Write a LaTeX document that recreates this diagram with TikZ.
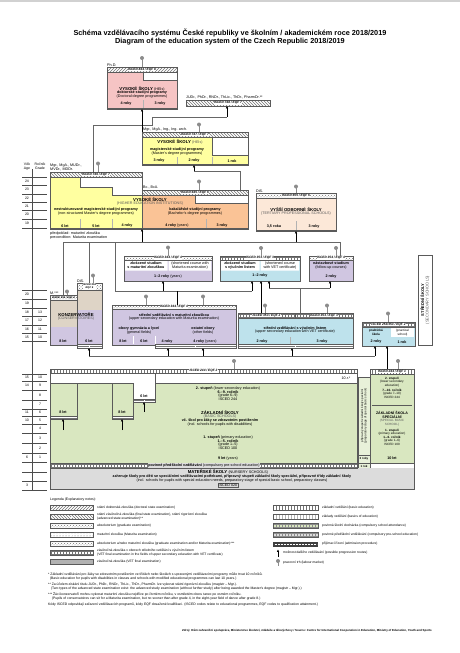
\documentclass[tikz,border=0pt]{standalone}
\usepackage{fontspec}
\setmainfont{Liberation Sans}
\usetikzlibrary{patterns,arrows.meta}
\definecolor{heY}{RGB}{255,255,160}
\definecolor{heO}{RGB}{250,195,150}
\definecolor{phd}{RGB}{246,196,196}
\definecolor{vos}{RGB}{252,232,216}
\definecolor{lav}{RGB}{208,198,225}
\definecolor{lblue}{RGB}{190,226,236}
\definecolor{grn}{RGB}{217,231,192}
\definecolor{gry}{RGB}{220,220,220}
\definecolor{tanc}{RGB}{222,212,198}
\definecolor{edge}{RGB}{90,90,90}
\tikzset{
  tt/.style={font=\fontsize{3.7}{4.1}\selectfont, inner sep=0pt, align=center},
  tb/.style={font=\fontsize{3.7}{4.1}\selectfont\bfseries, inner sep=0pt, align=center},
  te/.style={font=\fontsize{3.7}{4.1}\selectfont, inner sep=0pt, align=center, text=black!65},
  tn/.style={font=\fontsize{4.3}{4.7}\selectfont\bfseries, inner sep=0pt, align=center},
  ts/.style={font=\fontsize{3.1}{3.5}\selectfont, inner sep=0pt, align=center},
  tsb/.style={font=\fontsize{3.1}{3.5}\selectfont\bfseries, inner sep=0pt, align=center},
  tl/.style={font=\fontsize{3.3}{3.8}\selectfont, inner sep=0pt, align=left, anchor=west},
  bandlbl/.style={font=\fontsize{3.2}{3.4}\selectfont\bfseries\itshape, inner sep=0.4pt, fill=white},
  bandedge/.style={draw=edge, line width=0.35pt},
  boxedge/.style={draw=edge, line width=0.4pt},
  conn/.style={draw=black!60, line width=0.6pt},
  arr/.style={draw=black, line width=0.5pt, -{Triangle[length=2.4pt,width=2.2pt]}},
  pinhead/.style={circle, fill=black!45, inner sep=0pt, minimum size=4pt},
  pinline/.style={draw=black!45, line width=0.7pt},
  agel/.style={font=\fontsize{3.5}{3.9}\selectfont, inner sep=0pt},
}
\newcommand{\xband}[7]{%
  \path[fill=white] (#2,#3) rectangle (#4,#5);
  \path[pattern=#6, pattern color=black!55] (#2,#3) rectangle (#4,#5);
  \draw[bandedge] (#2,#3) rectangle (#4,#5);
  \node[bandlbl] (#1) at ({(#2+#4)/2},{(#3+#5)/2}) {#7};}
\newcommand{\xpin}[4]{%
  \coordinate (#1b) at (#2,#4);
  \draw[pinline] (#2,#3) -- (#1b);
  \node[pinhead] (#1) at (#2,#3) {};}
\begin{document}
\begin{tikzpicture}[x=1pt,y=-1pt]
\useasboundingbox (0,0) rectangle (460,653);
\fill[white] (0,0) rectangle (460,653);
\fill[black!18] (0,0) rectangle (460,1.6);

% ---------- title
\node[font=\fontsize{7.3}{8.5}\selectfont\bfseries, inner sep=0] (title1) at (230,33) {Schéma vzdělávacího systému České republiky ve školním / akademickém roce 2018/2019};
\node[font=\fontsize{7.3}{8.5}\selectfont\bfseries, inner sep=0] (title2) at (230,42) {Diagram of the education system of the Czech Republic 2018/2019};

% ---------- age column
\draw[black!70, line width=0.4pt] (32,169) -- (32,491);
\node[agel] (hAge1) at (27,164.5) {Věk};
\node[agel] (hAge2) at (27,168.3) {Age};
\node[agel] (hGr1) at (40,164.5) {Ročník};
\node[agel] (hGr2) at (40,168.3) {Grade};
\foreach \yy in {177,185,194,202,210,219,228, 290,299,308,316,325,333,341, 374,381,390,400,409,416,424,433,443,453,462,472,481,490}
  \draw[black!70, line width=0.35pt] (22,\yy) -- (47,\yy);
\foreach \a/\g/\yy [count=\i] in {24//181,23//189.5,22//198,21//206,20//214,19//223.5, 20//294.5,19//303.5,18/13/312,17/12/320.5,16/11/329,15/10/337, 15/10/377.5,14/9/385.5,/8/395,/7/404.5,11/6/412.5,10/5/420,/4/428.5,/3/438,/2/448,6/1/457.5,//467,//476.5,3//485.5}{
  \node[agel] (ag\i) at (27,\yy) {\a};
  \node[agel] (gr\i) at (40,\yy) {\g};}

% ---------- doctoral
\draw[boxedge, fill=phd] (107,72) -- (143,72) -- (143,80) -- (177,80) -- (177,109) -- (107,109) -- cycle;
\draw[boxedge] (143,72) -- (177,72) -- (177,80);
\xband{bD}{107}{67}{177}{72}{north east lines}{ISCED 844 / EQF 8}
\xpin{pD}{142}{58}{67}
\node[tt, anchor=south west] (phdl) at (107,66.5) {Ph.D.};
\node[tn] (dT1) at (142,88.5) {VYSOKÉ ŠKOLY \mdseries\fontsize{3.7}{4}\selectfont(HEIs)};
\node[tb] (dT2) at (142,92.8) {doktorské studijní programy};
\node[tt] (dT3) at (142,96.6) {(Doctoral degree programmes)};
\node[tb] (dT4) at (126,104) {4 roky};
\node[tb] (dT5) at (160,104) {3 roky};
\draw[black!30, line width=0.3pt] (143,100) -- (143,107.5);
\draw[edge, line width=0.9pt] (107,108.5) -- (177,108.5);

% ---------- rigorous exam band
\node[tt, anchor=south west] (jud) at (186,99.6) {JUDr., PhDr., RNDr., ThLic., ThDr., PharmDr.**};
\xband{bJU}{186}{100}{270}{106}{north west lines}{ISCED 748 / EQF 7}

% ---------- follow-up master
\draw[boxedge, fill=heY] (142,137) -- (212,137) -- (212,155) -- (248,155) -- (248,165) -- (142,165) -- cycle;
\draw[boxedge] (212,137) -- (248,137) -- (248,155);
\xband{bMg}{142}{132}{248}{137}{north west lines}{ISCED 747 / EQF 7}
\xpin{pMg}{199}{124.5}{132}
\node[tt, anchor=south west] (mgl) at (143,131.6) {Mgr., MgA., Ing., Ing. arch.};
\node[tn] (mT1) at (180,142) {VYSOKÉ ŠKOLY \mdseries\fontsize{3.7}{4}\selectfont\color{black!65}(HEIs)};
\node[tb] (mT2) at (177,149.3) {magisterské studijní programy};
\node[tt] (mT3) at (177,153.1) {(Master's degree programmes)};
\node[tb] (mT4) at (159,160.8) {3 roky};
\node[tb] (mT5) at (194,160.8) {2 roky};
\node[tb] (mT6) at (232,160.8) {1 rok};
\draw[black!30, line width=0.3pt] (177,157) -- (177,164) (212,157) -- (212,164);
\draw[edge, line width=0.9pt] (142,164.5) -- (248,164.5);

% ---------- HE (long master + bachelor)
\draw[boxedge, fill=heY] (50,177) -- (80,177) -- (80,187) -- (112,187) -- (112,195) -- (142,195) -- (142,229) -- (50,229) -- cycle;
\draw[boxedge, fill=heO] (142,195) -- (195,195) -- (195,203) -- (248,203) -- (248,229) -- (142,229) -- cycle;
\draw[boxedge] (80,177) -- (142,177) -- (142,195) (195,195) -- (248,195) -- (248,203);
\xband{bLM}{50}{172}{142}{177}{north west lines}{ISCED 746 / EQF 7}
\xband{bBc}{142}{190}{248}{195}{north west lines}{ISCED 645 / EQF 6}
\xpin{pLM}{98}{163.5}{172}
\xpin{pBc}{199}{181.5}{190}
\node[tt, anchor=south west, align=left] (lml) at (50,171.6) {Mgr., MgA., MUDr.,\\MVDr., MDDr.};
\node[tt, anchor=south west] (bcl) at (143,189.6) {Bc., BcA.};
\node[tn] (hT1) at (150,199.5) {VYSOKÉ ŠKOLY};
\node[te] (hT2) at (150,203.5) {(HIGHER EDUCATION INSTITUTIONS)};
\node[tb] (hT3) at (96,209.8) {nestrukturované magisterské studijní programy};
\node[tt] (hT4) at (96,213.6) {(non-structured Master's degree programmes)};
\node[tb] (hT5) at (195,209.8) {bakalářské studijní programy};
\node[tt] (hT6) at (195,213.6) {(Bachelor's degree programmes)};
\node[tb] (hT7) at (65,225.8) {6 let};
\node[tb] (hT8) at (96,225.8) {5 let};
\node[tb] (hT9) at (127,225.8) {4 roky};
\node[tb] (hT10) at (177,225.8) {4 roky \mdseries(years)};
\node[tb] (hT11) at (222,225.8) {3 roky};
\draw[black!30, line width=0.3pt] (80,219) -- (80,228) (112,219) -- (112,228) (206,219) -- (206,228);
\draw[edge, line width=0.9pt] (50,228.5) -- (248,228.5);
\node[tt, anchor=west, align=left] (prec) at (50,235.3) {předpoklad: maturitní zkouška\\precondition: Maturita examination};

% ---------- VOS
\draw[boxedge, fill=vos] (256,198) rectangle (336,231);
\xband{bVO}{256}{193}{336}{198}{crosshatch dots}{ISCED 655 / EQF 6}
\xpin{pVO}{296}{186.5}{193}
\node[tt, anchor=south west] (disl) at (256,192.6) {DiS.};
\node[tn] (vT1) at (296,209.5) {VYŠŠÍ ODBORNÉ ŠKOLY};
\node[te] (vT2) at (296,213.5) {(TERTIARY PROFESSIONAL SCHOOLS)};
\node[tb] (vT3) at (274,226.8) {3,5 roku};
\node[tb] (vT4) at (314,226.8) {3 roky};
\draw[black!30, line width=0.3pt] (296,221) -- (296,230);
\draw[edge, line width=0.9pt] (256,230.5) -- (336,230.5);

% ---------- connectors upper
\coordinate (c1) at (93,125);
\coordinate (c2) at (152,125);
\coordinate (c3) at (152,117);
\coordinate (c4) at (227,117);
\coordinate (dBot) at (142,109);
\coordinate (mTopL) at (142,132);
\coordinate (lmTop) at (93,172);
\coordinate (judBot) at (227,106);
\draw[conn] (lmTop) -- (c1) -- (c2) -- (c3) -- (c4);
\draw[arr] (c4) -- (judBot);
\draw[arr] (mTopL) -- (dBot);
\coordinate (bcR) at (240,190);
\coordinate (c5) at (240,171);
\coordinate (c6) at (194,171);
\coordinate (mBot) at (194,165);
\draw[conn] (bcR) -- (c5) -- (c6);
\draw[arr] (c6) -- (mBot);

% ---------- post-secondary short courses
\draw[boxedge, fill=lav] (124,260) rectangle (212,281);
\fill[white] (125,261) rectangle (167.5,270.5) (168.5,261) rectangle (211,270.5);
\xband{bA}{124}{256}{212}{260}{crosshatch dots}{ISCED 344 / EQF 4}
\xpin{pA}{168}{247.5}{256}
\node[tb] (aT1) at (146,265.5) {zkrácené studium\\s maturitní zkouškou};
\node[tt] (aT2) at (190,265.5) {(shortened course with\\Maturita examination)};
\node[tb] (aT3) at (168,276.5) {1–2 roky \mdseries(years)};

\draw[boxedge, fill=lblue] (220,260) rectangle (300,281);
\fill[white] (221,261) rectangle (259.5,270.5) (260.5,261) rectangle (299,270.5);
\xband{bB}{220}{256}{300}{260}{grid}{ISCED 353 / EQF 3}
\xpin{pB}{261}{248}{256}
\node[tb] (bT1) at (240,265.5) {zkrácené studium\\s výučním listem};
\node[tt] (bT2) at (280,265.5) {(shortened course\\with VET certificate)};
\node[tb] (bT3) at (260,276) {1–2 roky};

\draw[boxedge, fill=lav] (309,260) rectangle (353,281);
\xband{bC}{309}{256}{353}{260}{crosshatch dots}{ISCED 354 / EQF 4}
\xpin{pC}{336}{248}{256}
\node[tb] (cT1) at (331,265.5) {nástavbové studium\\\mdseries(follow-up courses)};
\node[tb] (cT3) at (331,276.5) {2 roky};

% ---------- connectors middle
\coordinate (m1) at (63,242);
\coordinate (m2) at (340,242);
\coordinate (heBot) at (142,229);
\coordinate (heSrc) at (142,242);
\coordinate (voBot) at (296,231);
\coordinate (voSrc) at (296,242);
\coordinate (cTop) at (340,256);
\coordinate (konzTop) at (63,295);
\coordinate (mat1) at (115,242);
\coordinate (mat2) at (115,291);
\coordinate (kz1) at (89,243);
\coordinate (kz2) at (89,283);
\draw[conn] (konzTop) -- (m1) -- (m2) -- (cTop);
\draw[conn] (mat1) -- (mat2);
\draw[conn] (kz1) -- (kz2);
\draw[arr] (heSrc) -- (heBot);
\draw[arr] (voSrc) -- (voBot);
\coordinate (n1) at (252,291);
\coordinate (aSrc) at (163,291);
\coordinate (aBot) at (163,281);
\coordinate (bBot1) at (252,281);
\draw[conn] (mat2) -- (n1);
\draw[arr] (aSrc) -- (aBot);
\draw[arr] (n1) -- (bBot1);
\coordinate (matTop) at (177,305);
\coordinate (matJ) at (177,291);
\draw[black, line width=0.9pt] (matTop) -- (matJ);
\coordinate (vetTop1) at (261,313);
\coordinate (bBot2) at (261,281);
\draw[arr] (vetTop1) -- (bBot2);
\coordinate (r1) at (269,288);
\coordinate (r2) at (330,288);
\coordinate (bBot3) at (269,281);
\coordinate (cBot) at (330,281);
\coordinate (vetTop2) at (300,313);
\coordinate (r3) at (300,288);
\draw[conn] (vetTop2) -- (r3) (r1) -- (r2);
\draw[arr] (r1) -- (bBot3);
\draw[arr] (r2) -- (cBot);

% ---------- conservatoire
\fill[tanc] (77,290) rectangle (102,310);
\fill[tanc] (50,300) rectangle (77,327);
\fill[lav] (50,327) rectangle (77,345) (77,310) rectangle (102,345);
\draw[boxedge] (50,300) -- (50,345) -- (102,345) -- (102,290) (77,290) -- (77,345);
\xband{bK1}{50}{295}{77}{300}{crosshatch dots}{}
\node[bandlbl, fill=none, font=\fontsize{2.6}{2.9}\selectfont\bfseries\itshape, align=center] (bK1l) at (63.5,297.5) {ISCED 354 / EQF 4};
\xband{bK2}{77}{283}{102}{290}{crosshatch dots}{}
\node[bandlbl, fill=white, font=\fontsize{2.6}{2.9}\selectfont\bfseries\itshape, align=center] (bK2l) at (89.5,286.5) {ISCED 554\\EQF 6};
\xpin{pK1}{67}{291.5}{295}
\xpin{pK2}{93}{275.5}{283}
\node[tt, anchor=south west] (kzl1) at (50,294.6) {M.***};
\node[tt, anchor=south west] (kzl2) at (77,282.6) {DiS.};
\node[tn] (kT1) at (76,315) {KONZERVATOŘE};
\node[te] (kT2) at (76,319) {(CONSERVATOIRES)};
\node[tb] (kT3) at (63,341.5) {8 let};
\node[tb] (kT4) at (89,341.5) {6 let};
\xband{adm1}{77}{344}{102}{348}{horizontal lines}{}

% ---------- upper secondary with Maturita
\draw[boxedge, fill=lav] (112,309) rectangle (236,345);
\xband{bM}{112}{305}{236}{309}{crosshatch dots}{ISCED 344 / EQF 4}
\xpin{pM1}{146}{296.5}{305}
\xpin{pM2}{203}{296.5}{305}
\node[tb] (uT1) at (174,314.8) {střední vzdělávání s maturitní zkouškou};
\node[tt] (uT2) at (174,318.7) {(upper secondary education with Maturita examination)};
\node[tb] (uT3) at (139,328.8) {obory gymnázia a lyceí};
\node[tt] (uT4) at (139,332.7) {(general fields)};
\node[tb] (uT5) at (203,328.8) {ostatní obory};
\node[tt] (uT6) at (203,332.7) {(other fields)};
\node[tb] (uT7) at (123,341.5) {8 let};
\node[tb] (uT8) at (144,341.5) {6 let};
\node[tb] (uT9) at (167,341.5) {4 roky};
\node[tb] (uT10) at (205,341.5) {4 roky \mdseries(years)};
\draw[white, line width=0.5pt] (133,336) -- (133,344) (155,336) -- (155,344);
\xband{adm2}{155}{344}{236}{348}{horizontal lines}{}

% ---------- upper secondary with VET certificate
\draw[boxedge, fill=lblue] (238,318) rectangle (353,345);
\xband{bV1}{238}{313}{295}{318}{grid}{ISCED 353 / EQF 2}
\xband{bV2}{295}{313}{353}{318}{grid}{ISCED 353 / EQF 3}
\xpin{pV1}{265}{305.5}{313}
\xpin{pV2}{327}{305.5}{313}
\node[tb] (wT1) at (295,328) {střední vzdělávání s výučním listem};
\node[tt] (wT2) at (295,331.9) {(upper secondary education with VET certificate)};
\node[tb] (wT3) at (262,341.5) {2 roky};
\node[tb] (wT4) at (322,341.5) {3 roky};
\draw[black!30, line width=0.3pt] (290,337) -- (290,344.5);
\xband{adm3}{238}{344}{353}{348}{horizontal lines}{}

% ---------- practical school
\draw[boxedge, fill=lblue] (362,327) rectangle (415,346);
\fill[white] (391,328) rectangle (414,337);
\xband{bP}{362}{322}{415}{327}{grid}{ISCED 253/353 / EQF 2}
\xpin{pP}{388}{313.5}{322}
\node[tsb] (pT1) at (376,332.5) {praktická\\škola};
\node[ts] (pT2) at (402.5,332.5) {(practical\\school)};
\node[tb] (pT3) at (376,342) {2 roky};
\node[tb] (pT4) at (402,342) {1 rok};

% ---------- secondary schools vertical label
\draw[boxedge, fill=white] (418,255) rectangle (432,345);
\node[tb, rotate=90, font=\fontsize{4}{4.6}\selectfont\bfseries] (ssk) at (425,300) {STŘEDNÍ ŠKOLY\\\mdseries\color{black!65}(SECONDARY SCHOOLS)};

% ---------- line y=356 with arrows
\coordinate (L0) at (89,356);
\coordinate (L1) at (375,356);
\coordinate (kBot) at (89,348);
\coordinate (u1Src) at (168,356);
\coordinate (u1Bot) at (168,348);
\coordinate (u2Src) at (203,356);
\coordinate (u2Bot) at (203,348);
\coordinate (vSrc) at (292,356);
\coordinate (vBot) at (292,348);
\coordinate (prBot) at (375,346);
\draw[conn] (L0) -- (L1);
\draw[arr] (L0) -- (kBot);
\draw[arr] (u1Src) -- (u1Bot);
\draw[arr] (u2Src) -- (u2Bot);
\draw[arr] (vSrc) -- (vBot);
\draw[arr] (L1) -- (prBot);
\coordinate (spTop) at (387,369);
\coordinate (prBot2) at (387,346);
\draw[arr] (spTop) -- (prBot2);

% ---------- basic school
\fill[grn] (50,383) rectangle (357,463);
\fill[white] (133,383) rectangle (155,399);
\draw[boxedge] (50,373) rectangle (357,463);
\draw[edge, line width=0.6pt] (50,383) -- (133,383) (155,383) -- (357,383) (155,373) -- (155,402)
  (77,383) -- (77,419) (112,383) -- (112,419) (133,383) -- (133,419);
\xband{bZ}{50}{369}{357}{373}{vertical lines}{ISCED 244 / EQF 2}
\xpin{pZ}{234}{361}{369}
\node[tt] (zr10) at (346,378) {10.r.*};
\node[tb] (zT1) at (228,388) {2. stupeň \mdseries(lower secondary education)};
\node[tb] (zT2) at (228,391.7) {6.–9. ročník};
\node[tt] (zT3) at (228,395.4) {(grade 6–9)};
\node[tt] (zT4) at (228,399.1) {ISCED 244};
\node[tn] (zT5) at (220,412.8) {ZÁKLADNÍ ŠKOLY};
\node[te] (zT6) at (220,416.8) {(BASIC SCHOOLS)};
\node[tb] (zT7) at (220,420.5) {vč. škol pro žáky se zdravotním postižením};
\node[tt] (zT8) at (220,424.2) {(incl. schools for pupils with disabilities)};
\node[tb] (zT9) at (228,437.5) {1. stupeň \mdseries(primary education)};
\node[tb] (zT10) at (228,441.2) {1.–5. ročník};
\node[tt] (zT11) at (228,444.9) {(grade 1–5)};
\node[tt] (zT12) at (228,448.6) {ISCED 100};
\node[tb] (zT13) at (228,458.5) {9 let \mdseries(years)};
\node[tb] (zT14) at (63,412.5) {8 let};
\node[tb] (zT15) at (122,412.5) {8 let};
\node[tb] (zT16) at (144,396.5) {6 let};
\xband{adm4}{50}{416}{77}{419}{horizontal lines}{}
\xband{adm5}{112}{416}{133}{419}{horizontal lines}{}
\xband{adm6}{133}{399}{155}{402}{horizontal lines}{}
\coordinate (g1a) at (63,430); \coordinate (g1b) at (63,419);
\coordinate (g2a) at (122,430); \coordinate (g2b) at (122,419);
\coordinate (g3a) at (144,412); \coordinate (g3b) at (144,402);
\draw[arr] (g1a) -- (g1b);
\draw[arr] (g2a) -- (g2b);
\draw[arr] (g3a) -- (g3b);

% ---------- preparatory stage column
\draw[edge, line width=0.8pt, fill=grn!60] (358,377) rectangle (370,470);
\draw[edge, line width=0.4pt] (358,455) -- (370,455) (358,463) -- (370,463);
\node[ts, rotate=90, font=\fontsize{2.9}{3.3}\selectfont] (prip) at (364,416) {přípravný stupeň základní školy speciální\\(preparatory stage of special basic school)};
\node[tsb, font=\fontsize{2.9}{3.3}\selectfont\bfseries] (prip2) at (364,459) {3 roky};
\node[tsb, font=\fontsize{2.9}{3.3}\selectfont\bfseries] (prip3) at (364,466.5) {1 rok};

% ---------- special basic school
\draw[boxedge, fill=grn] (370,374) rectangle (414,463);
\xband{bS}{370}{369}{414}{374}{vertical lines}{ISCED 244 / EQF 1}
\xpin{pS}{398}{361}{369}
\draw[edge, line width=0.3pt] (372,405) -- (412,405);
\node[tsb] (sT1) at (392,378.5) {2. stupeň};
\node[ts] (sT2) at (392,383.6) {(lower secondary\\education)};
\node[tsb] (sT3) at (392,390.2) {7.–10. ročník};
\node[ts] (sT4) at (392,393.7) {(grade 7–10)};
\node[ts] (sT5) at (392,397.2) {ISCED 244};
\node[tsb, font=\fontsize{3.6}{4}\selectfont\bfseries] (sT6) at (392,415) {ZÁKLADNÍ ŠKOLA\\SPECIÁLNÍ};
\node[ts, text=black!65] (sT7) at (392,422.6) {(SPECIAL BASIC\\SCHOOL)};
\node[tsb] (sT8) at (392,430.5) {1. stupeň};
\node[ts] (sT9) at (392,434) {(primary education)};
\node[tsb] (sT10) at (392,437.5) {1.–6. ročník};
\node[ts] (sT11) at (392,441) {(grade 1–6)};
\node[ts] (sT12) at (392,444.5) {ISCED 100};
\node[tb] (sT13) at (392,458.5) {10 let};

% ---------- pre-school
\fill[gry] (50,468) rectangle (414,489);
\draw[boxedge] (50,463) -- (50,489) -- (414,489) -- (414,463);
\xband{bPS}{50}{463}{357}{468}{grid}{}
\node[tb, fill=gry, inner sep=0.5pt] (psT0) at (204,465.5) {povinné předškolní vzdělávání \mdseries(compulsory pre-school education)};
\node[tn] (psT1) at (228,472.3) {MATEŘSKÉ ŠKOLY \mdseries\fontsize{3.7}{4}\selectfont(NURSERY SCHOOLS)};
\node[tb] (psT2) at (232,476.4) {zahrnuje školy pro děti se speciálními vzdělávacími potřebami, přípravný stupeň základní školy speciální, přípravné třídy základní školy};
\node[tt] (psT3) at (232,480.2) {(incl. schools for pupils with special education needs, preparatory stage of special basic school, preparatory classes)};
\node[tt, draw=edge, line width=0.4pt, inner sep=0.5pt] (psT4) at (228,485) {ISCED 020};

% ---------- legend
\node[tl, font=\fontsize{3.5}{3.9}\selectfont] (leg) at (50,500) {Legenda (Explanatory notes):};
\foreach \yy/\pat/\txt [count=\i] in {
  508/north east lines/{státní doktorská zkouška (doctoral state examination)},
  517/north west lines/{státní závěrečná zkouška (final state examination), státní rigorózní zkouška\\(advanced state examination)**},
  526/crosshatch dots/{absolutorium (graduate examination)},
  535/dots/{maturitní zkouška (Maturita examination)},
  544/crosshatch dots/{absolutorium a/nebo maturitní zkouška (graduate examination and/or Maturita examination)***},
  553/grid/{závěrečná zkouška v oborech středního vzdělání s výučním listem\\(VET final examination in the fields of upper secondary education with VET certificate)}}{
  \xband{lg\i}{50}{\yy-2.5}{93}{\yy+2.5}{\pat}{}
  \node[tl] (lgt\i) at (97,\yy) {\txt};}
\fill[black!30] (50,559.5) rectangle (93,564.5);
\draw[bandedge] (50,559.5) rectangle (93,564.5);
\node[tl] (lgt7) at (97,562) {závěrečná zkouška (VET final examination)};

\xband{lr1}{273}{505.5}{318}{510.5}{vertical lines}{}
\draw[edge, line width=0.8pt] (273,505.5) rectangle (318,510.5);
\node[tl] (lrt1) at (322,508) {základní vzdělání (basic education)};
\path[fill=white] (273,514.5) rectangle (318,519.5);
\path[pattern=vertical lines, pattern color=black!30] (273,514.5) rectangle (318,519.5);
\draw[bandedge] (273,514.5) rectangle (318,519.5);
\node[tl] (lrt2) at (322,517) {základy vzdělání (basics of education)};
\fill[grn] (273,523.5) rectangle (318,528.5);
\path[pattern=grid, pattern color=black!45] (273,523.5) rectangle (318,528.5);
\draw[bandedge] (273,523.5) rectangle (318,528.5);
\node[tl] (lrt3) at (322,526) {povinná školní docházka (compulsory school attendance)};
\fill[gry] (273,532.5) rectangle (318,537.5);
\path[pattern=grid, pattern color=black!45] (273,532.5) rectangle (318,537.5);
\draw[bandedge] (273,532.5) rectangle (318,537.5);
\node[tl] (lrt4) at (322,535) {povinné předškolní vzdělávání (compulsory pre-school education)};
\fill[black!75] (273,541.5) rectangle (318,546.5);
\draw[white, line width=0.8pt, dash pattern=on 2pt off 1pt] (274.5,544) -- (316.5,544);
\node[tl] (lrt5) at (322,544) {přijímací řízení (admission procedure)};
\coordinate (la1) at (278,557); \coordinate (la2) at (278,549.5);
\draw[arr] (la1) -- (la2);
\node[tl] (lrt6) at (283,553) {možnost dalšího vzdělávání (possible progression routes)};
\xpin{lpin}{278}{561}{566}
\node[tl] (lrt7) at (283,563) {pracovní trh (labour market)};

% ---------- footnotes
\node[tl, font=\fontsize{3.4}{3.8}\selectfont] (fn1) at (48,576.5) {* Základní vzdělávání pro žáky se zdravotním postižením ve třídách nebo školách s upravenými vzdělávacími programy může trvat 10 ročníků.\\\ \ (Basic education for pupils with disabilities in classes and schools with modified educational programmes can last 10 years.)};
\node[tl, font=\fontsize{3.4}{3.8}\selectfont] (fn2) at (48,586.5) {** Za účelem získání titulu JUDr., PhDr., RNDr., ThLic., ThDr., PharmDr. lze vykonat státní rigorózní zkoušku (magistr – Mgr.).\\\ \ \ (Two types of the advanced state examination exist: the advanced study examination (without further study) after being awarded the Master's degree (magistr – Mgr.).)};
\node[tl, font=\fontsize{3.4}{3.8}\selectfont] (fn3) at (48,596.5) {*** Žáci konzervatoří mohou vykonat maturitní zkoušku nejdříve po čtvrtém ročníku, v osmiletém oboru tanec po osmém ročníku.\\\ \ \ \ (Pupils of conservatoires can sit for a Maturita examination, but no sooner than after grade 4, in the eight-year field of dance after grade 8.)};
\node[tl, font=\fontsize{3.4}{3.8}\selectfont] (fn4) at (48,604.7) {Kódy ISCED odpovídají zařazení vzdělávacích programů, kódy EQF dosažené kvalifikaci. (ISCED codes relate to educational programmes, EQF codes to qualification attainment.)};
\node[font=\fontsize{2.9}{3.3}\selectfont\bfseries, inner sep=0, anchor=east] (src) at (432,631) {Zdroj: Dům zahraniční spolupráce, Ministerstvo školství, mládeže a tělovýchovy / Source: Centre for International Cooperation in Education, Ministry of Education, Youth and Sports};
\end{tikzpicture}
\end{document}
